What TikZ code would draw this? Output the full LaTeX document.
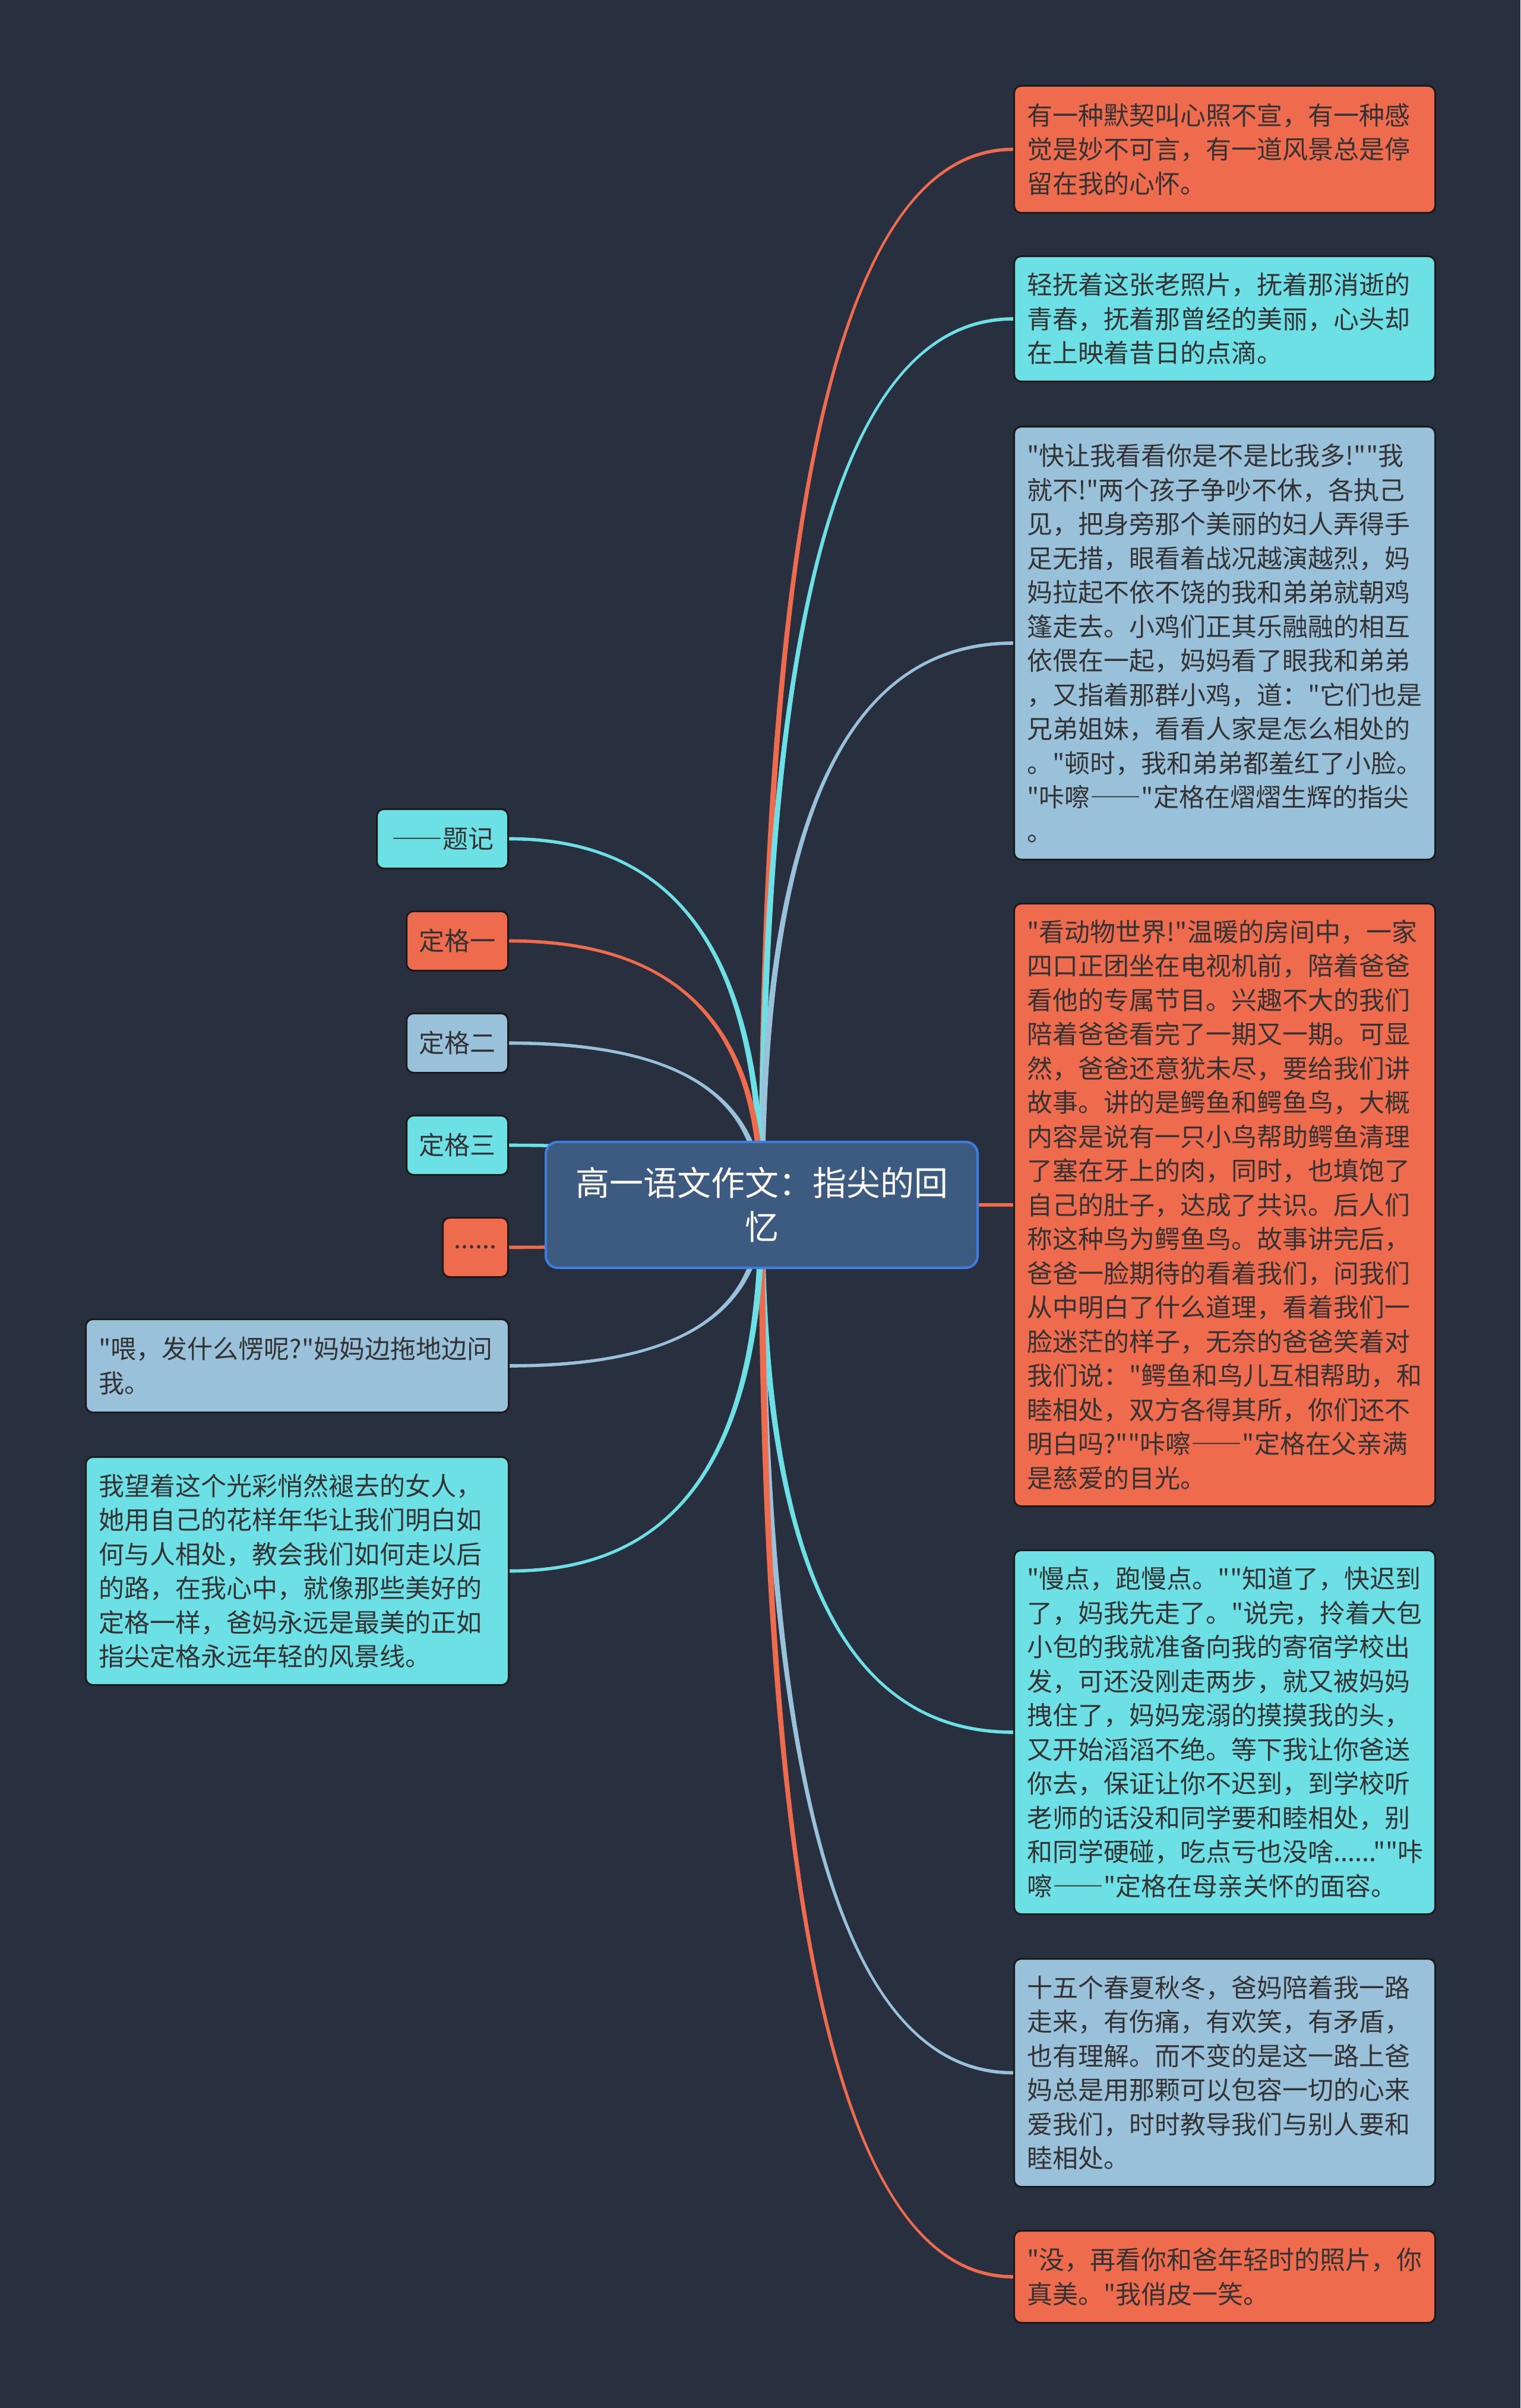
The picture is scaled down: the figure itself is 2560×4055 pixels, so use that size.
\documentclass[tikz,border=0pt]{standalone}
\usepackage{fontspec}
\newfontfamily\cjk{Noto Sans CJK SC}[Ligatures=TeXOff]
\newfontfamily\cjkfw{Noto Sans CJK SC}[Ligatures=TeXOff,CharacterWidth=Full]
\newcommand{\dd}{{\cjkfw ——}}
\usetikzlibrary{calc}
\setlength\parindent{0pt}
\definecolor{bgc}{HTML}{282F3E}
\definecolor{orc}{HTML}{EE6B4D}
\definecolor{cyc}{HTML}{6CE0E4}
\definecolor{lbc}{HTML}{9AC1DA}
\definecolor{cfill}{HTML}{3D5A80}
\definecolor{cbord}{HTML}{3C7FE0}
\definecolor{bordc}{HTML}{1B1B1B}
\definecolor{txtc}{HTML}{333333}
\pgfdeclarelayer{bglayer}
\pgfdeclarelayer{connlayer}
\pgfsetlayers{bglayer,connlayer,main}
\newcommand{\wA}{1.3pt}
\newcommand{\wB}{0.7pt}
\newcommand{\mlink}[3]{%
 \fill[#3] let \p1=(mm.center), \p2=(#1.#2), \n1={sign(\y2-\y1)}, \n2={sign(\x2-\x1)} in
 ({\x1-(\n1)*\wA},\y1) .. controls ({\x1-(\n1)*\wA},{\y1+0.7*(\y2-\y1)}) and ({\x1+0.35*(\x2-\x1)},{\y2+(\n2)*\wB}) .. (\x2,{\y2+(\n2)*\wB})
 -- (\x2,{\y2-(\n2)*\wB}) .. controls ({\x1+0.35*(\x2-\x1)},{\y2-(\n2)*\wB}) and ({\x1+(\n1)*\wA},{\y1+0.7*(\y2-\y1)}) .. ({\x1+(\n1)*\wA},\y1) -- cycle;}
\tikzset{
 box/.style={draw=bordc, line width=0.75pt, rounded corners=3pt, anchor=north west,
   inner xsep=5.5pt, inner ysep=0pt, align=left, text=txtc,
   font={\cjk\fontsize{10.75pt}{14.375pt}\selectfont}},
 rbox/.style={box, text width=166.25pt},
 lbox/.style={box, text width=167pt},
 tagbox/.style={box, align=center, inner xsep=0pt, minimum height=25pt},
 central/.style={draw=cbord, line width=1pt, fill=cfill, rounded corners=5pt, anchor=north west,
   text width=165pt, inner xsep=8.375pt, inner ysep=0pt, minimum height=53pt, align=center,
   text=white, font={\cjk\fontsize{14.25pt}{18.5pt}\selectfont}}
}
\begin{document}
\begin{tikzpicture}[x=0.25pt,y=-0.25pt]
\useasboundingbox (0,0) rectangle (2560,4055);
\begin{pgfonlayer}{bglayer}
\fill[bgc] (0,0) rectangle (2560,4055);
\end{pgfonlayer}

\node[central] (mm) at (917,1921) {高一语文作文：指尖的回\\忆};

\node[rbox, fill=orc, minimum height=53.5pt] (r1) at (1706,143) {有一种默契叫心照不宣，有一种感\\觉是妙不可言，有一道风景总是停\\留在我的心怀。};
\node[rbox, fill=cyc, minimum height=52.75pt] (r2) at (1706,430) {轻抚着这张老照片，抚着那消逝的\\青春，抚着那曾经的美丽，心头却\\在上映着昔日的点滴。};
\node[rbox, fill=lbc, minimum height=182.25pt] (r3) at (1706,717) {"快让我看看你是不是比我多!""我\\就不!"两个孩子争吵不休，各执己\\见，把身旁那个美丽的妇人弄得手\\足无措，眼看着战况越演越烈，妈\\妈拉起不依不饶的我和弟弟就朝鸡\\篷走去。小鸡们正其乐融融的相互\\依偎在一起，妈妈看了眼我和弟弟\\，又指着那群小鸡，道："它们也是\\兄弟姐妹，看看人家是怎么相处的\\。"顿时，我和弟弟都羞红了小脸。\\"咔嚓\dd"定格在熠熠生辉的指尖\\。};
\node[rbox, fill=orc, minimum height=253.75pt] (r4) at (1706,1520) {"看动物世界!"温暖的房间中，一家\\四口正团坐在电视机前，陪着爸爸\\看他的专属节目。兴趣不大的我们\\陪着爸爸看完了一期又一期。可显\\然，爸爸还意犹未尽，要给我们讲\\故事。讲的是鳄鱼和鳄鱼鸟，大概\\内容是说有一只小鸟帮助鳄鱼清理\\了塞在牙上的肉，同时，也填饱了\\自己的肚子，达成了共识。后人们\\称这种鸟为鳄鱼鸟。故事讲完后，\\爸爸一脸期待的看着我们，问我们\\从中明白了什么道理，看着我们一\\脸迷茫的样子，无奈的爸爸笑着对\\我们说："鳄鱼和鸟儿互相帮助，和\\睦相处，双方各得其所，你们还不\\明白吗?""咔嚓\dd"定格在父亲满\\是慈爱的目光。};
\node[rbox, fill=cyc, minimum height=153.25pt] (r5) at (1706,2609) {"慢点，跑慢点。""知道了，快迟到\\了，妈我先走了。"说完，拎着大包\\小包的我就准备向我的寄宿学校出\\发，可还没刚走两步，就又被妈妈\\拽住了，妈妈宠溺的摸摸我的头，\\又开始滔滔不绝。等下我让你爸送\\你去，保证让你不迟到，到学校听\\老师的话没和同学要和睦相处，别\\和同学硬碰，吃点亏也没啥......""咔\\嚓\dd"定格在母亲关怀的面容。};
\node[rbox, fill=lbc, minimum height=96pt] (r6) at (1706,3297) {十五个春夏秋冬，爸妈陪着我一路\\走来，有伤痛，有欢笑，有矛盾，\\也有理解。而不变的是这一路上爸\\妈总是用那颗可以包容一切的心来\\爱我们，时时教导我们与别人要和\\睦相处。};
\node[rbox, fill=orc, minimum height=38.75pt] (r7) at (1706,3755) {"没，再看你和爸年轻时的照片，你\\真美。"我俏皮一笑。};

\node[tagbox, fill=cyc, minimum width=55.25pt] (t0) at (633,1361) {\dd 题记};
\node[tagbox, fill=orc, minimum width=42.75pt] (t1) at (683,1533) {定格一};
\node[tagbox, fill=lbc, minimum width=42.75pt] (t2) at (683,1705) {定格二};
\node[tagbox, fill=cyc, minimum width=42.75pt] (t3) at (683,1877) {定格三};
\node[tagbox, fill=orc, minimum width=27.5pt] (t4) at (744,2049) {......};
\node[lbox, fill=lbc, minimum height=39.25pt] (l1) at (143,2220) {"喂，发什么愣呢?"妈妈边拖地边问\\我。};
\node[lbox, fill=cyc, minimum height=96pt] (l2) at (143,2452) {我望着这个光彩悄然褪去的女人，\\她用自己的花样年华让我们明白如\\何与人相处，教会我们如何走以后\\的路，在我心中，就像那些美好的\\定格一样，爸妈永远是最美的正如\\指尖定格永远年轻的风景线。};

\begin{pgfonlayer}{connlayer}
\mlink{r1}{west}{orc}
\mlink{r2}{west}{cyc}
\mlink{r3}{west}{lbc}
\draw[orc, line width=1.6pt] (mm.center) -- (r4.west);
\mlink{r5}{west}{cyc}
\mlink{r6}{west}{lbc}
\mlink{r7}{west}{orc}
\mlink{t0}{east}{cyc}
\mlink{t1}{east}{orc}
\mlink{t2}{east}{lbc}
\mlink{t3}{east}{cyc}
\mlink{t4}{east}{orc}
\mlink{l1}{east}{lbc}
\mlink{l2}{east}{cyc}
\end{pgfonlayer}
\end{tikzpicture}
\end{document}
